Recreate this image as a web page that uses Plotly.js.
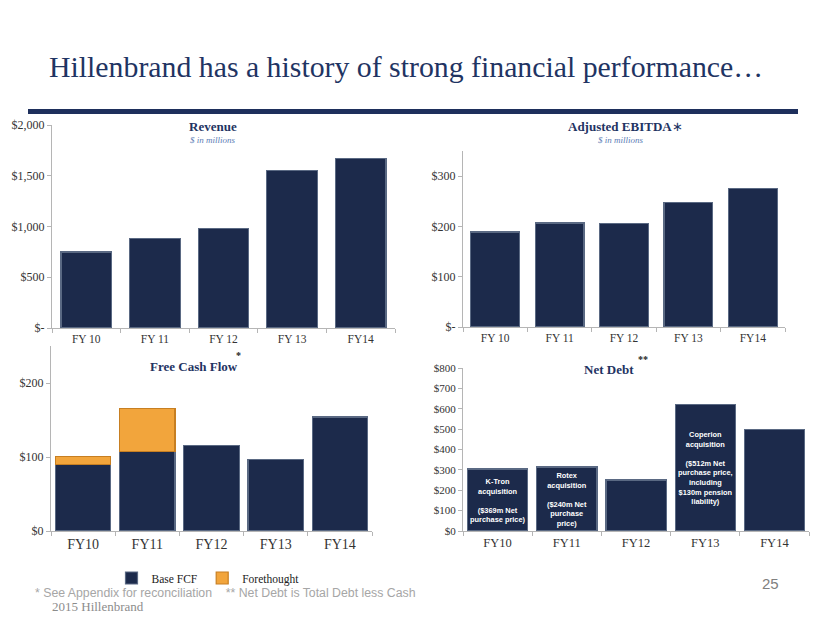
<!DOCTYPE html>
<html>
<head>
<meta charset="utf-8">
<script src="https://cdn.plot.ly/plotly-3.0.1.min.js"></script>
<style>
html,body{margin:0;padding:0;background:#fff;}
#chart{width:830px;height:623px;}
</style>
</head>
<body>
<div id="chart"></div>
<script>
// ---- data ----
const topCats = ['FY 10', 'FY 11', 'FY 12', 'FY 13', 'FY14'];
const bottomCats = ['FY10', 'FY11', 'FY12', 'FY13', 'FY14'];
const revenue = [749, 883, 983, 1553, 1667];
const ebitda = [189, 207, 206, 247, 275];
const fcfBase = [90, 107, 116, 97, 154];
const fcfForethought = [11, 59, null, null, null];
const netDebt = [304, 314, 250, 622, 500];
const netDebtNotes = [
  'K-Tron<br>acquisition<br> <br>($369m Net<br>purchase price)',
  'Rotex<br>acquisition<br> <br>($240m Net<br>purchase<br>price)',
  '',
  'Coperion<br>acquisition<br> <br>($512m Net<br>purchase price,<br>including<br>$130m pension<br>liability)',
  ''
];
const revTicks = [0, 500, 1000, 1500, 2000];
const revTickText = ['$-', '$500', '$1,000', '$1,500', '$2,000'];
const ebitdaTicks = [0, 100, 200, 300];
const ebitdaTickText = ['$-', '$100', '$200', '$300'];
const fcfTicks = [0, 100, 200];
const fcfTickText = ['$0', '$100', '$200'];
const debtTicks = [0, 100, 200, 300, 400, 500, 600, 700, 800];
const debtTickText = ['$0', '$100', '$200', '$300', '$400', '$500', '$600', '$700', '$800'];

// ---- style ----
const W = 830, H = 623;
const px = x => x / W;
const py = y => 1 - y / H;
const NAVY = '#1c2a4b';
const NAVY_EDGE = '#5a6983';
const ORANGE = '#f2a53c';
const ORANGE_EDGE = '#c77f22';
const SERIF = 'Liberation Serif, Times New Roman, serif';
const TITLE_NAVY = '#1f3463';

function xax(domain, anchor, size) {
  return {
    domain: domain, anchor: anchor, type: 'category',
    showline: true, linecolor: '#b5b5b5', linewidth: 1,
    ticks: 'outside', tickson: 'boundaries', ticklen: 4, tickcolor: '#b5b5b5',
    showgrid: false, zeroline: false,
    tickfont: {family: SERIF, size: size, color: '#333'}
  };
}
function yax(domain, anchor, range, vals, text, size) {
  return {
    domain: domain, anchor: anchor, range: range,
    tickvals: vals, ticktext: text,
    showline: true, linecolor: '#b5b5b5', linewidth: 1,
    ticks: 'outside', ticklen: 4, tickcolor: '#b5b5b5',
    showgrid: false, zeroline: false,
    tickfont: {family: SERIF, size: size, color: '#333'}
  };
}

const traces = [
  {type: 'bar', x: topCats, y: revenue, xaxis: 'x', yaxis: 'y', showlegend: false, width: 0.74,
   marker: {color: NAVY, line: {color: NAVY_EDGE, width: 1.2}}, hoverinfo: 'x+y'},
  {type: 'bar', x: topCats, y: ebitda, xaxis: 'x2', yaxis: 'y2', showlegend: false, width: 0.76,
   marker: {color: NAVY, line: {color: NAVY_EDGE, width: 1.2}}, hoverinfo: 'x+y'},
  {type: 'bar', name: 'Base FCF', x: bottomCats, y: fcfBase, xaxis: 'x3', yaxis: 'y3', width: 0.86,
   marker: {color: NAVY, line: {color: NAVY_EDGE, width: 1.2}}},
  {type: 'bar', name: 'Forethought', x: bottomCats, y: fcfForethought, xaxis: 'x3', yaxis: 'y3', width: 0.86,
   marker: {color: ORANGE, line: {color: ORANGE_EDGE, width: 1.2}}},
  {type: 'bar', x: bottomCats, y: netDebt, xaxis: 'x4', yaxis: 'y4', showlegend: false, width: 0.87,
   marker: {color: NAVY, line: {color: NAVY_EDGE, width: 1.2}}, hoverinfo: 'x+y'}
];

const annotations = [
  {xref: 'paper', yref: 'paper', x: px(47), y: py(66), xanchor: 'left', yanchor: 'middle', showarrow: false,
   text: 'Hillenbrand has a history of strong financial performance…',
   font: {family: SERIF, size: 29.8, color: TITLE_NAVY}},
  {xref: 'paper', yref: 'paper', x: px(213), y: py(126), xanchor: 'center', yanchor: 'middle', showarrow: false,
   text: '<b>Revenue</b>', font: {family: SERIF, size: 13, color: TITLE_NAVY}},
  {xref: 'paper', yref: 'paper', x: px(213), y: py(140), xanchor: 'center', yanchor: 'middle', showarrow: false,
   text: '<i>$ in millions</i>', font: {family: SERIF, size: 9, color: '#5b7db5'}},
  {xref: 'paper', yref: 'paper', x: px(625), y: py(126), xanchor: 'center', yanchor: 'middle', showarrow: false,
   text: '<b>Adjusted EBITDA</b>∗', font: {family: SERIF, size: 13, color: TITLE_NAVY}},
  {xref: 'paper', yref: 'paper', x: px(621), y: py(139.5), xanchor: 'center', yanchor: 'middle', showarrow: false,
   text: '<i>$ in millions</i>', font: {family: SERIF, size: 9, color: '#5b7db5'}},
  {xref: 'paper', yref: 'paper', x: px(194), y: py(367), xanchor: 'center', yanchor: 'middle', showarrow: false,
   text: '<b>Free Cash Flow</b>', font: {family: SERIF, size: 13, color: TITLE_NAVY}},
  {xref: 'paper', yref: 'paper', x: px(238), y: py(355), xanchor: 'center', yanchor: 'middle', showarrow: false,
   text: '<b>*</b>', font: {family: SERIF, size: 10, color: '#222'}},
  {xref: 'paper', yref: 'paper', x: px(609), y: py(369), xanchor: 'center', yanchor: 'middle', showarrow: false,
   text: '<b>Net Debt</b>', font: {family: SERIF, size: 13, color: TITLE_NAVY}},
  {xref: 'paper', yref: 'paper', x: px(643), y: py(359), xanchor: 'center', yanchor: 'middle', showarrow: false,
   text: '<b>**</b>', font: {family: SERIF, size: 10, color: '#222'}},
  {xref: 'paper', yref: 'paper', x: px(33), y: py(593), xanchor: 'left', yanchor: 'middle', showarrow: false,
   text: '* See Appendix for reconciliation&nbsp;&nbsp;&nbsp;&nbsp;** Net Debt is Total Debt less Cash',
   font: {family: 'Liberation Sans, Arial, sans-serif', size: 12.3, color: '#a6a6a6'}},
  {xref: 'paper', yref: 'paper', x: px(50), y: py(606), xanchor: 'left', yanchor: 'middle', showarrow: false,
   text: '2015 Hillenbrand', font: {family: SERIF, size: 13, color: '#8c8c8c'}},
  {xref: 'paper', yref: 'paper', x: px(770), y: py(583), xanchor: 'center', yanchor: 'middle', showarrow: false,
   text: '25', font: {family: 'Liberation Sans, Arial, sans-serif', size: 15, color: '#808080'}}
];

// notes inside Net Debt bars, centred on each bar (from the data)
netDebtNotes.forEach((t, i) => {
  if (!t) return;
  annotations.push({
    xref: 'x4', yref: 'y4', x: bottomCats[i], y: netDebt[i] / 2,
    xanchor: 'center', yanchor: 'middle', showarrow: false, align: 'center',
    text: '<b>' + t + '</b>',
    font: {family: 'Liberation Sans, Arial, sans-serif', size: 7.4, color: '#ffffff'}
  });
});

const layout = {
  width: W, height: H,
  margin: {l: 0, r: 0, t: 0, b: 0},
  paper_bgcolor: '#ffffff', plot_bgcolor: 'rgba(0,0,0,0)',
  barmode: 'stack',
  showlegend: true,
  legend: {orientation: 'h', x: px(208), xanchor: 'center', y: py(578), yanchor: 'middle',
           font: {family: SERIF, size: 11.5, color: '#222'}, itemwidth: 30,
           bgcolor: 'rgba(0,0,0,0)', traceorder: 'normal'},
  xaxis: xax([px(52), px(395)], 'y', 11.5),
  yaxis: yax([py(328), py(125)], 'x', [0, 2000], revTicks, revTickText, 12),
  xaxis2: xax([px(463), px(785)], 'y2', 11.5),
  yaxis2: yax([py(327), py(151)], 'x2', [0, 350], ebitdaTicks, ebitdaTickText, 12),
  xaxis3: xax([px(51), px(372)], 'y3', 14),
  yaxis3: yax([py(531), py(346)], 'x3', [0, 250], fcfTicks, fcfTickText, 12),
  xaxis4: xax([px(463), px(809)], 'y4', 12.5),
  yaxis4: yax([py(531), py(368)], 'x4', [0, 800], debtTicks, debtTickText, 11),
  shapes: [
    {type: 'rect', xref: 'paper', yref: 'paper', x0: px(28), x1: px(798), y0: py(114), y1: py(109),
     fillcolor: '#1e2f5c', line: {width: 0}}
  ],
  annotations: annotations
};

Plotly.newPlot('chart', traces, layout, {staticPlot: true, displayModeBar: false});
</script>
</body>
</html>
